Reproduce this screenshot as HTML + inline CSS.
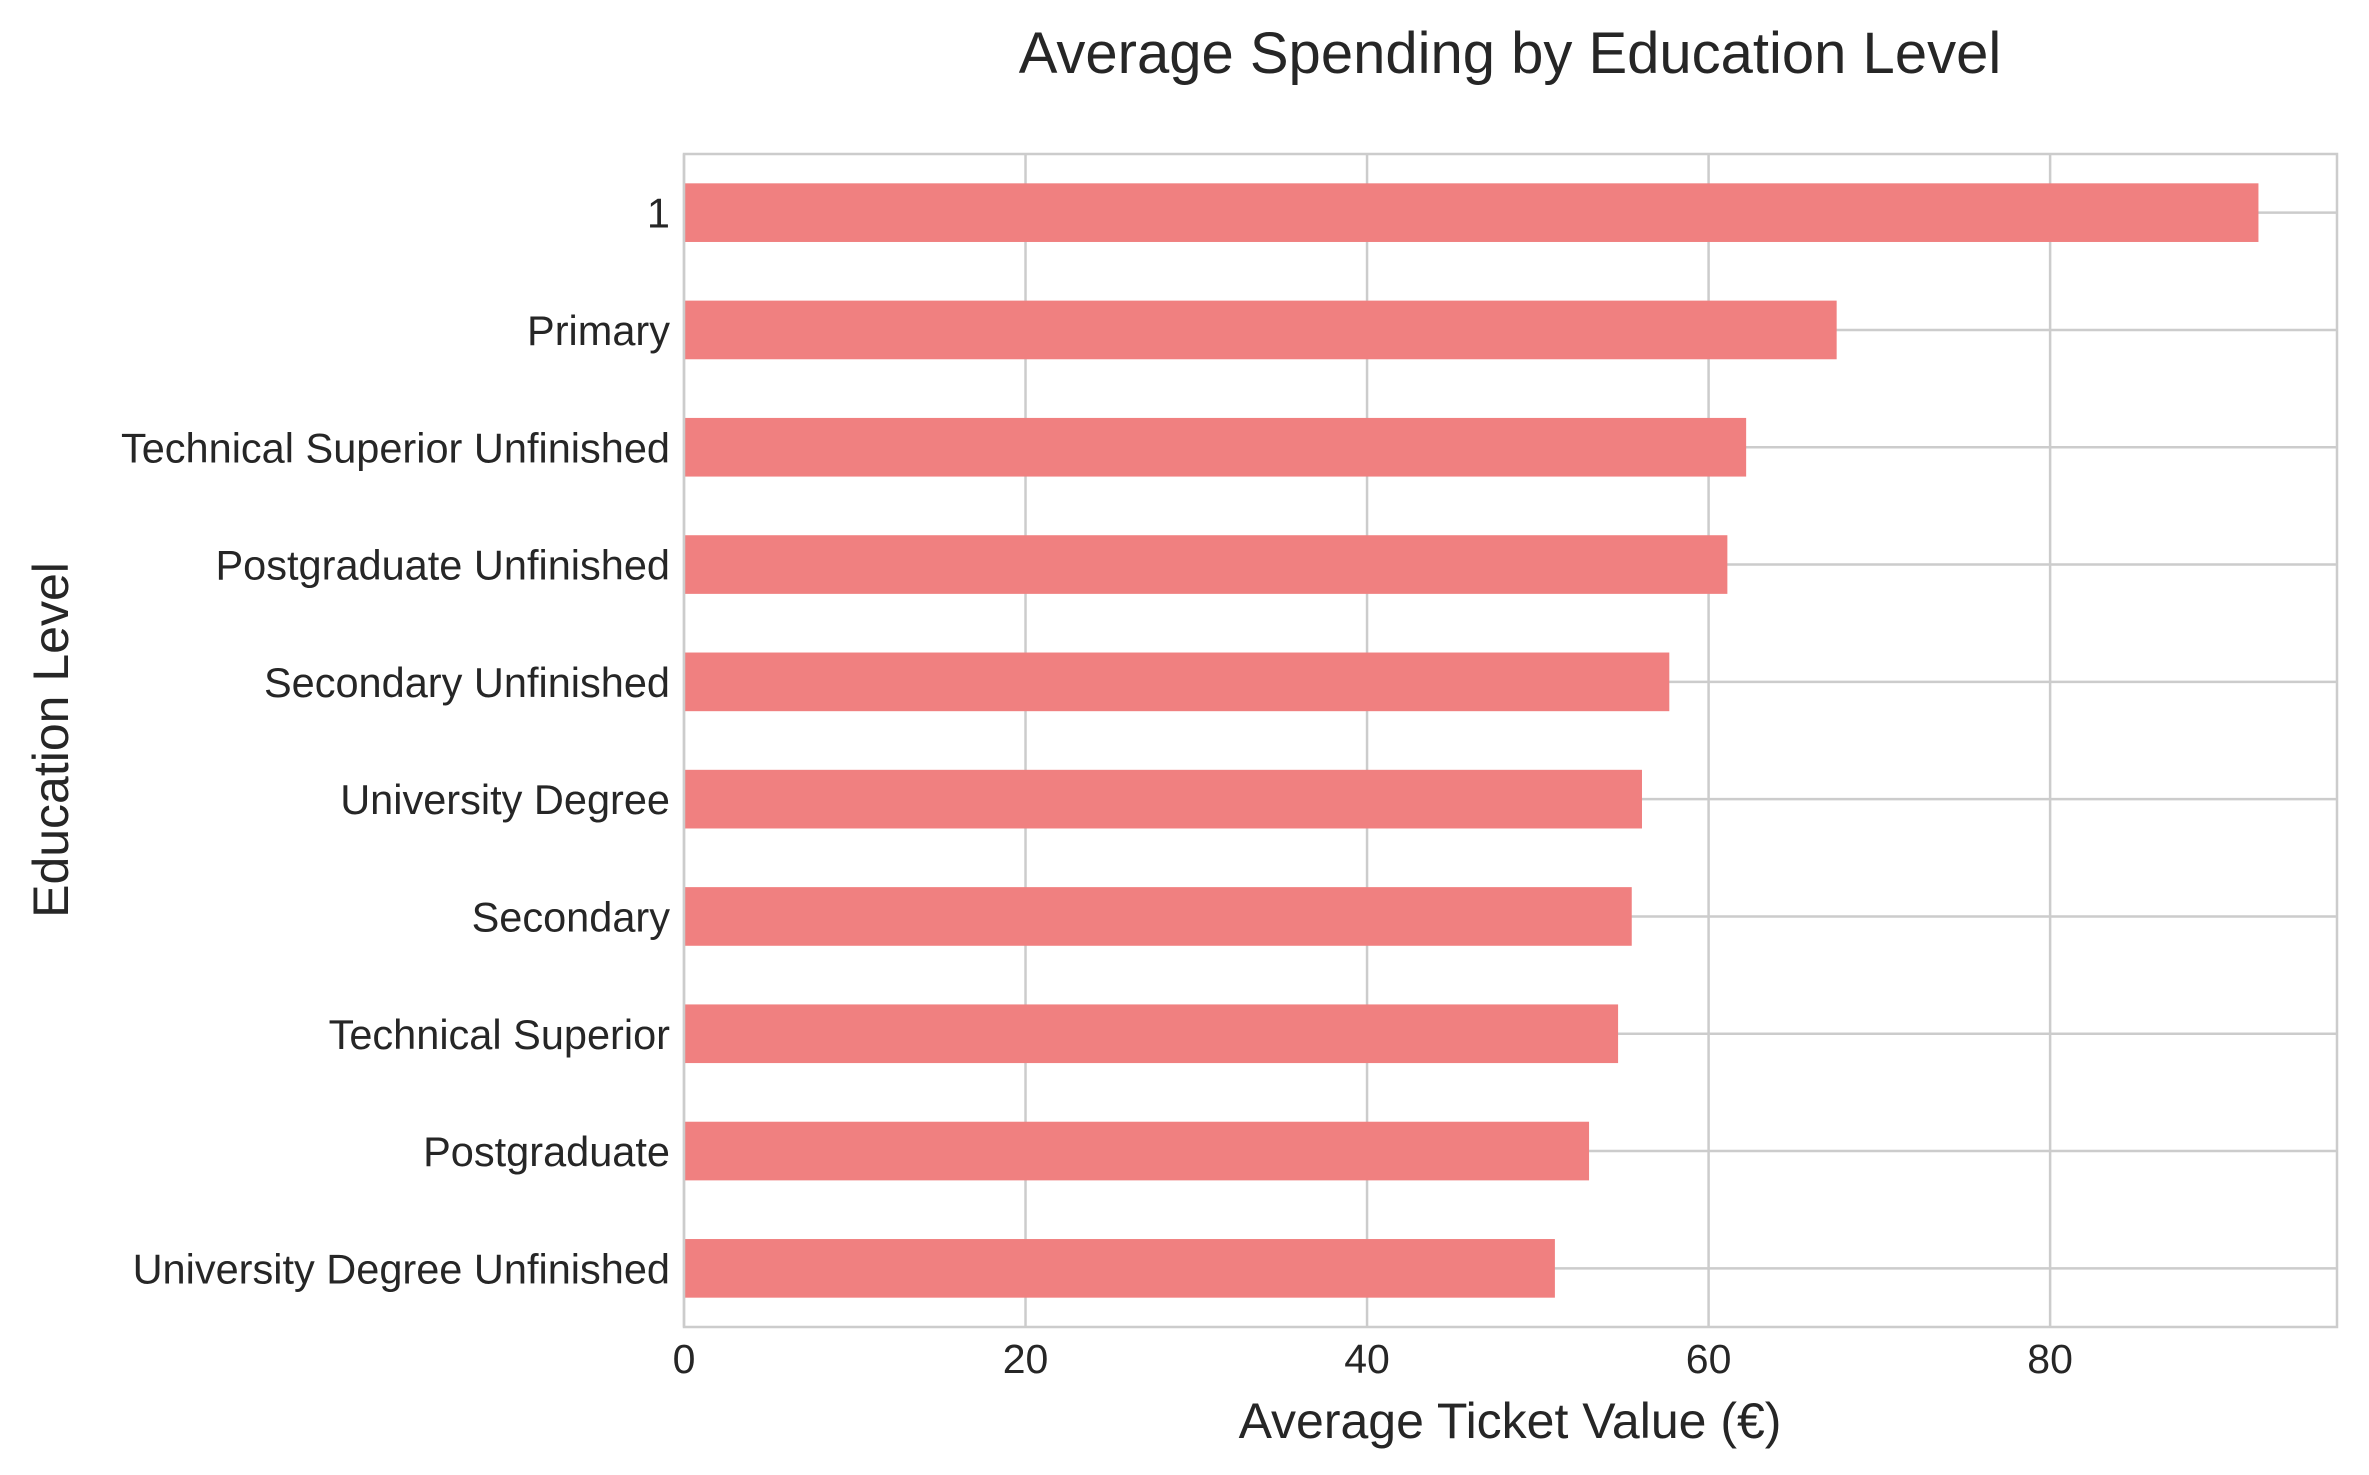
<!DOCTYPE html>
<html><head><meta charset="utf-8"><style>
html,body{margin:0;padding:0;background:#fff;}
svg{display:block;font-family:"Liberation Sans",Arial,sans-serif;}
</style></head><body>
<svg id="chart" width="2369" height="1475" viewBox="0 0 2369 1475" xmlns="http://www.w3.org/2000/svg">
<rect width="2369" height="1475" fill="#fff"/>
<text x="1510" y="73" font-size="58" text-anchor="middle" fill="#262626">Average Spending by Education Level</text>
<g id="grid"></g>
<g id="bars"></g>
<rect x="684" y="154" width="1653" height="1173" fill="none" stroke="#cccccc" stroke-width="2.5"/>
<g id="yticks"></g>
<g id="xticks"></g>
<text x="1510" y="1438" font-size="50" text-anchor="middle" fill="#262626">Average Ticket Value (€)</text>
<text x="0" y="0" font-size="50" text-anchor="middle" fill="#262626" transform="translate(68,740) rotate(-90)">Education Level</text>
</svg>
<script>
const categories = ["1","Primary","Technical Superior Unfinished","Postgraduate Unfinished","Secondary Unfinished","University Degree","Secondary","Technical Superior","Postgraduate","University Degree Unfinished"];
const values = [92.2,67.5,62.2,61.1,57.7,56.1,55.5,54.7,53.0,51.0];
const xTicks = [0,20,40,60,80];
const NS="http://www.w3.org/2000/svg";
const L=684,R=2337,T=154,B=1327,XMAX=96.8;
const xs=v=>L+(v/XMAX)*(R-L);
const step=(B-T)/categories.length;
const yc=i=>T+step*(i+0.5);
function mk(tag,attrs,parent){const e=document.createElementNS(NS,tag);for(const k in attrs)e.setAttribute(k,attrs[k]);parent.appendChild(e);return e;}
const grid=document.getElementById('grid'),bars=document.getElementById('bars'),yt=document.getElementById('yticks'),xt=document.getElementById('xticks');
xTicks.forEach(t=>{
  const l=mk('line',{x1:xs(t),x2:xs(t),y1:T,y2:B,stroke:'#cccccc','stroke-width':2.5},grid);
  
  
  const tx=mk('text',{x:xs(t),y:B+46,'font-size':41,'text-anchor':'middle',fill:'#262626'},xt);
  tx.textContent=t;
  
  
});
categories.forEach((c,i)=>{
  const l=mk('line',{x1:L,x2:R,y1:yc(i),y2:yc(i),stroke:'#cccccc','stroke-width':2.5},grid);
  
  
  const h=step*0.5;
  const b=mk('rect',{x:L,y:yc(i)-h/2,width:xs(values[i])-L,height:h,fill:'#f08080'},bars);
  
  
  const tx=mk('text',{x:L-14,y:yc(i)+15,'font-size':41.5,'text-anchor':'end',fill:'#262626'},yt);
  tx.textContent=c;
  
  
});
</script>
</body></html>
